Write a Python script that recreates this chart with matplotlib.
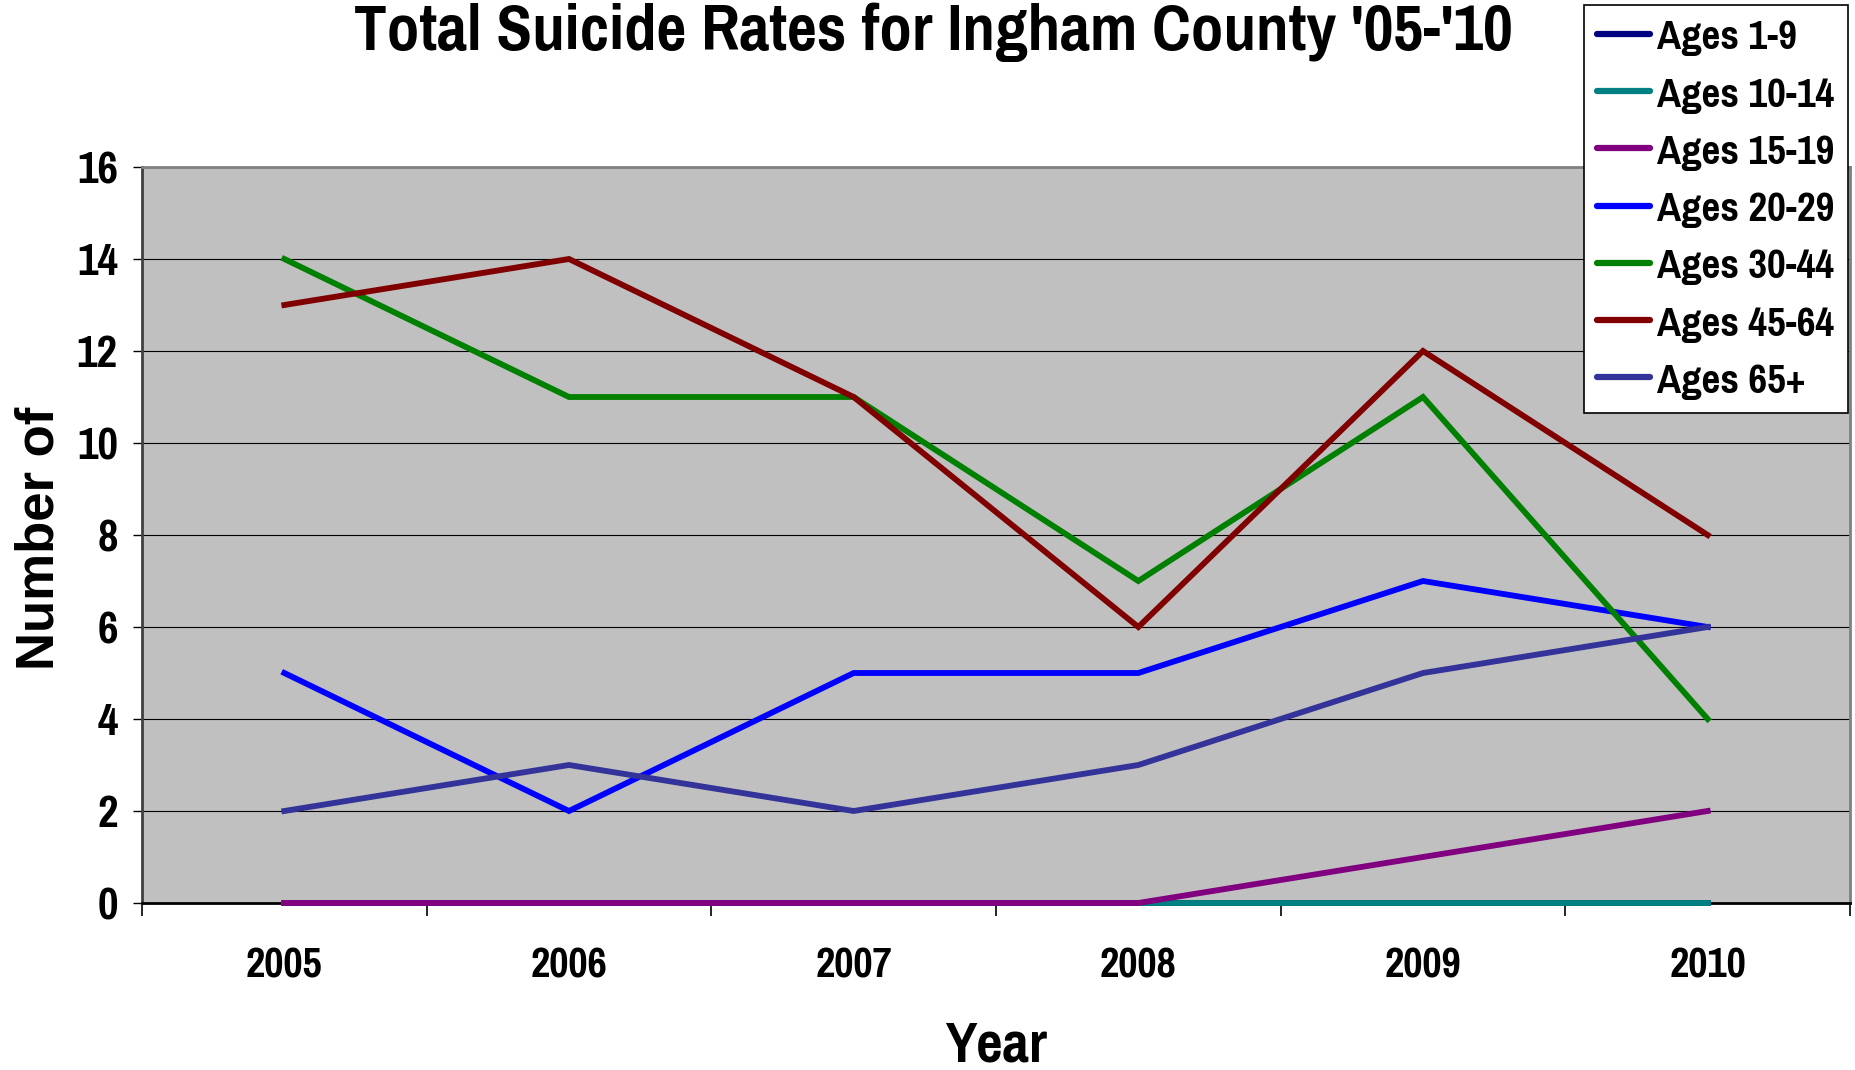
import matplotlib
matplotlib.use("Agg")
import matplotlib.pyplot as plt
from matplotlib.ticker import FixedLocator

years = ["2005", "2006", "2007", "2008", "2009", "2010"]
series_names = ["Ages 1-9", "Ages 10-14", "Ages 15-19", "Ages 20-29",
                "Ages 30-44", "Ages 45-64", "Ages 65+"]
ages_1_9 = [0, 0, 0, 0, 0, 0]
ages_10_14 = [0, 0, 0, 0, 0, 0]
ages_15_19 = [0, 0, 0, 0, 1, 2]
ages_20_29 = [5, 2, 5, 5, 7, 6]
ages_30_44 = [14, 11, 11, 7, 11, 4]
ages_45_64 = [13, 14, 11, 6, 12, 8]
ages_65_plus = [2, 3, 2, 3, 5, 6]
series_values = [ages_1_9, ages_10_14, ages_15_19, ages_20_29,
                 ages_30_44, ages_45_64, ages_65_plus]
colors = ["#000080", "#008080", "#800080", "#0000FF",
          "#008000", "#800000", "#333399"]
y_ticks = [0, 2, 4, 6, 8, 10, 12, 14, 16]

NARROW = ["Pragati Narrow", "Roboto Condensed", "DejaVu Sans"]
WIDE = ["Liberation Sans", "DejaVu Sans"]

W, H = 1856, 1070
fig = plt.figure(figsize=(W / 100, H / 100), dpi=100)
fig.patch.set_facecolor("white")

ax = fig.add_axes([142 / W, 1 - 903 / H, (1850 - 142) / W, (903 - 167) / H])
ax.set_facecolor("#C0C0C0")

x = list(range(len(years)))
for name, vals, c in zip(series_names, series_values, colors):
    ax.plot(x, vals, color=c, lw=4.2, label=name, zorder=3, clip_on=False,
            solid_joinstyle="miter")

ax.set_xlim(-0.5, len(years) - 0.5)
ax.set_ylim(0, 16)
ax.set_yticks(y_ticks)
ax.set_yticklabels([str(v) for v in y_ticks], fontfamily=NARROW,
                   fontweight="bold", fontsize=35)
ax.yaxis.grid(True, color="black", lw=0.8, zorder=1)
ax.set_axisbelow(True)

ax.set_xticks(x)
ax.set_xticklabels(years, fontfamily=NARROW, fontweight="bold", fontsize=33)
ax.xaxis.set_minor_locator(FixedLocator([i - 0.5 for i in range(len(years) + 1)]))
ax.tick_params(axis="x", which="major", length=0, pad=31)
ax.tick_params(axis="x", which="minor", length=9, width=1.2, color="black")
ax.tick_params(axis="y", which="major", length=6.5, width=1.0, color="black", pad=11)

for side in ["top", "right"]:
    ax.spines[side].set_color("#808080")
    ax.spines[side].set_linewidth(2)
ax.spines["left"].set_color("#404040")
ax.spines["left"].set_linewidth(2)
ax.spines["bottom"].set_color("black")
ax.spines["bottom"].set_linewidth(2)

fig.text(933 / W, 1 - 50 / H, "Total Suicide Rates for Ingham County '05-'10",
         ha="center", va="baseline", fontfamily=NARROW, fontweight="bold",
         fontsize=51)
fig.text(996 / W, 1 - 1061 / H, "Year", ha="center", va="baseline",
         fontfamily=NARROW, fontweight="bold", fontsize=45)
fig.text(40 / W, 1 - 538 / H, "Number of", ha="center", va="center",
         rotation=90, fontfamily=WIDE, fontweight="bold", fontsize=38)

leg = ax.legend(loc="upper right", bbox_to_anchor=(1848 / W, 1 - 5 / H),
                bbox_transform=fig.transFigure, borderaxespad=0,
                prop={"family": NARROW, "weight": "bold", "size": 32},
                handlelength=1.2, handletextpad=0.16, labelspacing=0.43,
                borderpad=0.3, frameon=True, fancybox=False)
leg.get_frame().set_edgecolor("black")
leg.get_frame().set_linewidth(1.2)
leg.get_frame().set_facecolor("white")
leg.get_frame().set_alpha(1)
for h in leg.get_lines():
    h.set_linewidth(4.5)
    h.set_solid_capstyle("round")
leg.set_zorder(10)

fig.savefig("out.png", dpi=100, facecolor="white")
